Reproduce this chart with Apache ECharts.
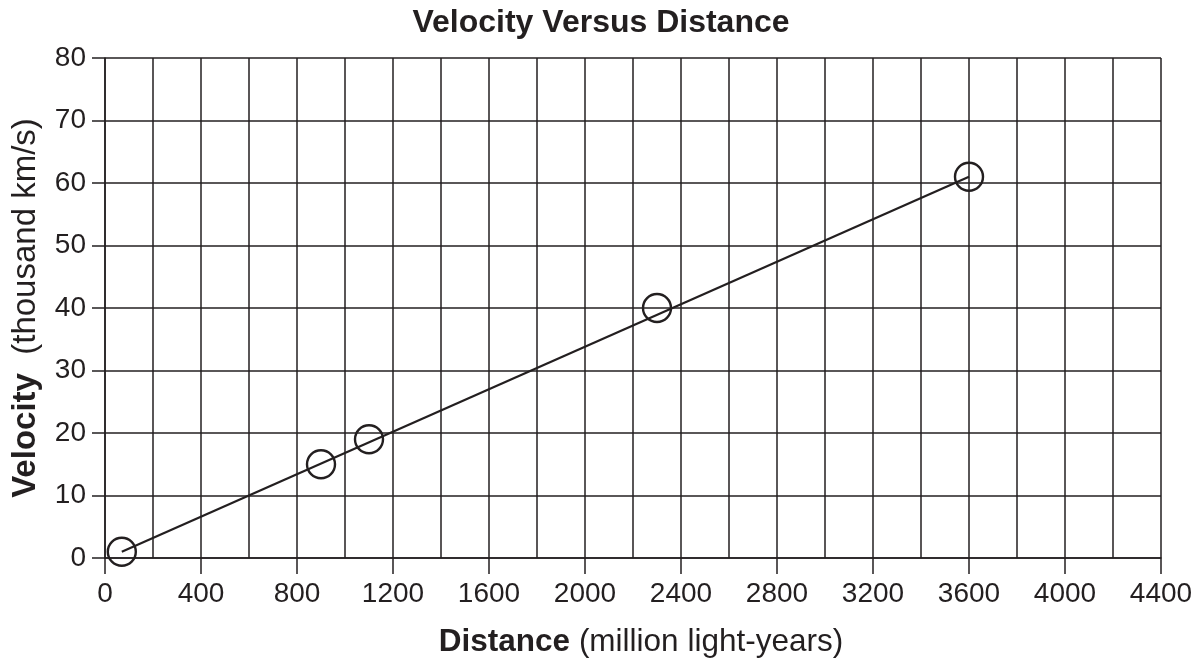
<!DOCTYPE html>
<html>
<head>
<meta charset="utf-8">
<title>Velocity Versus Distance</title>
<script src="https://cdn.jsdelivr.net/npm/echarts@6/dist/echarts.min.js"></script>
<style>
  html, body { margin: 0; padding: 0; background: #fff; }
  #chart { width: 1202px; height: 661px; }
</style>
</head>
<body>
<div id="chart"></div>
<script>
// galaxies: distance (million light-years), velocity (thousand km/s)
var distances = [70, 900, 1100, 2300, 3600];
var velocities = [1, 15, 19, 40, 61];
// hand drawn best-fit line, first to last point
var fitDistances = [70, 3600];
var fitVelocities = [1, 61];

var ink = '#231f20';
var font = '"Liberation Sans", Arial, Helvetica, sans-serif';

var points = [];
for (var i = 0; i < distances.length; i++) {
	points.push([distances[i], velocities[i]]);
}
var fitLine = [];
for (var j = 0; j < fitDistances.length; j++) {
	fitLine.push([fitDistances[j], fitVelocities[j]]);
}

// plain numbers, no thousands separator
function plain(v) {
	return String(v);
}

var myChart = echarts.init(document.getElementById('chart'));
var option = {
	backgroundColor: '#fff',
	animation: false,
	textStyle: { fontFamily: font, color: ink },
	title: {
		text: 'Velocity Versus Distance',
		left: 'center',
		top: 2,
		textStyle: { fontFamily: font, fontSize: 32, fontWeight: 'bold', color: ink }
	},
	grid: { left: 105, right: 41, top: 58, bottom: 103, containLabel: false, outerBoundsMode: 'none' },
	xAxis: {
		type: 'value',
		min: 0,
		max: 4400,
		interval: 400,
		name: '{b|Distance}{n| (million light-years)}',
		nameLocation: 'middle',
		nameGap: 68,
		nameMoveOverlap: false,
		nameTextStyle: {
			padding: [0, 0, 0, 16],
			rich: {
				b: { fontFamily: font, fontSize: 31.5, fontWeight: 'bold', color: ink },
				n: { fontFamily: font, fontSize: 31.5, color: ink }
			}
		},
		axisLine: { show: true, lineStyle: { color: ink, width: 1.5 } },
		axisTick: { show: true, length: 16, lineStyle: { color: ink, width: 1.5 } },
		axisLabel: { margin: 22, fontFamily: font, fontSize: 28, color: ink, formatter: plain },
		splitLine: { show: true, lineStyle: { color: ink, width: 1.5 } },
		minorTick: { show: false, splitNumber: 2 },
		minorSplitLine: { show: true, lineStyle: { color: ink, width: 1.5 } }
	},
	yAxis: {
		type: 'value',
		min: 0,
		max: 80,
		interval: 10,
		name: '{b|Velocity}{n|  (thousand km/s)}',
		nameLocation: 'middle',
		nameGap: 63,
		nameMoveOverlap: false,
		nameRotate: 90,
		nameTextStyle: {
			rich: {
				b: { fontFamily: font, fontSize: 33, fontWeight: 'bold', color: ink },
				n: { fontFamily: font, fontSize: 33, color: ink }
			}
		},
		axisLine: { show: true, lineStyle: { color: ink, width: 1.5 } },
		axisTick: { show: true, length: 13, lineStyle: { color: ink, width: 1.5 } },
		axisLabel: { margin: 19, fontFamily: font, fontSize: 28, color: ink, formatter: plain },
		splitLine: { show: true, lineStyle: { color: ink, width: 1.5 } }
	},
	series: [
		{
			name: 'fit',
			type: 'line',
			data: fitLine,
			symbol: 'none',
			lineStyle: { color: ink, width: 2.2 },
			z: 3
		},
		{
			name: 'galaxies',
			type: 'scatter',
			data: points,
			symbol: 'circle',
			symbolSize: 28,
			itemStyle: { color: 'rgba(0,0,0,0)', borderColor: ink, borderWidth: 2.4, opacity: 1 },
			z: 4
		}
	]
};
myChart.setOption(option);
</script>
</body>
</html>
